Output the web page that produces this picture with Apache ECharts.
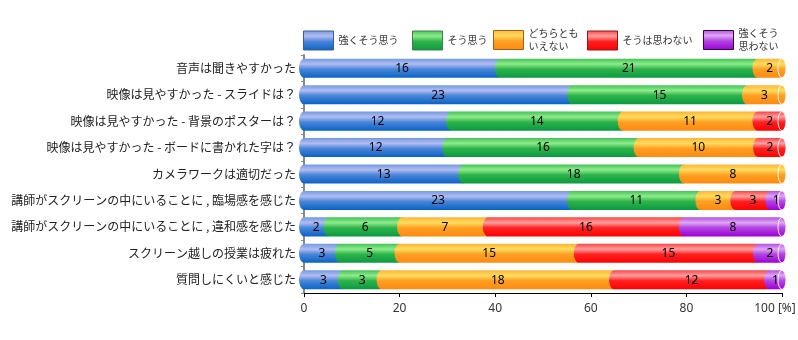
<!DOCTYPE html>
<html>
<head>
<meta charset="utf-8">
<script src="https://cdn.jsdelivr.net/npm/echarts@6/dist/echarts.min.js"></script>
<style>
  html, body { margin: 0; padding: 0; background: #fff; }
  #chart { width: 798px; height: 340px; }
</style>
</head>
<body>
<div id="chart"></div>
<script>
// Survey statements (top to bottom)
const questions = [
  '音声は聞きやすかった',
  '映像は見やすかった - スライドは？',
  '映像は見やすかった - 背景のポスターは？',
  '映像は見やすかった - ボードに書かれた字は？',
  'カメラワークは適切だった',
  '講師がスクリーンの中にいることに , 臨場感を感じた',
  '講師がスクリーンの中にいることに , 違和感を感じた',
  'スクリーン越しの授業は疲れた',
  '質問しにくいと感じた'
];

// Answer options
const answerNames = ['強くそう思う', 'そう思う', 'どちらとも\nいえない', 'そうは思わない', '強くそう\n思わない'];

// Response counts per statement
const stronglyAgree    = [16, 23, 12, 12, 13, 23, 2, 3, 3];
const agree            = [21, 15, 14, 16, 18, 11, 6, 5, 3];
const neutral          = [2, 3, 11, 10, 8, 3, 7, 15, 18];
const disagree         = [0, 0, 2, 2, 0, 3, 16, 15, 12];
const stronglyDisagree = [0, 0, 0, 0, 0, 1, 8, 2, 1];

const xTicks = [0, 20, 40, 60, 80, 100];

const counts = [stronglyAgree, agree, neutral, disagree, stronglyDisagree];

// Cylinder-like vertical shading for each answer
const shades = [
  ['#6f9be0', '#b3bcf3', '#4a86d8', '#0a62c6'],
  ['#45c257', '#8eec8b', '#2fb34b', '#099a42'],
  ['#ffb536', '#ffdc5e', '#ffa024', '#ff8a10'],
  ['#ff4343', '#ffa0a0', '#ff2222', '#ff0000'],
  ['#b550e2', '#dfa6f2', '#b244e2', '#9d00d6']
];
const borders = ['#3f5f8f', '#3f7f4f', '#a0601a', '#8f1a1a', '#2a0a3a'];

function gradient(k) {
  const c = shades[k];
  return {
    type: 'linear', x: 0, y: 0, x2: 0, y2: 1,
    colorStops: [
      { offset: 0, color: c[0] },
      { offset: 0.28, color: c[1] },
      { offset: 0.55, color: c[2] },
      { offset: 1, color: c[3] }
    ]
  };
}

function makeRenderer(k) {
  return function (params, api) {
    const row = api.value(0);
    const startPct = api.value(1);
    const endPct = api.value(2);
    const n = api.value(3);
    const p0 = api.coord([startPct, row]);
    const p1 = api.coord([endPct, row]);
    const h = api.size([0, 1])[1] * 0.72;
    const rx = 5, ry = h / 2;
    const top = p0[1] - ry, bottom = p0[1] + ry;
    const x0 = p0[0], x1 = p1[0];
    const children = [{
      type: 'path',
      shape: {
        pathData: 'M' + x0 + ' ' + top + 'L' + x1 + ' ' + top + 'L' + x1 + ' ' + bottom +
                  'L' + x0 + ' ' + bottom + 'A' + rx + ' ' + ry + ' 0 0 1 ' + x0 + ' ' + top + 'Z'
      },
      style: { fill: gradient(k) }
    }];
    if (endPct >= 99.999) {
      const erx = 4;
      children.push({
        type: 'path',
        shape: {
          pathData: 'M' + x1 + ' ' + top + 'A' + erx + ' ' + ry + ' 0 1 1 ' + x1 + ' ' + bottom +
                    'A' + erx + ' ' + ry + ' 0 1 1 ' + x1 + ' ' + top + 'Z'
        },
        style: { fill: gradient(k), stroke: 'rgba(255,255,255,0.9)', lineWidth: 1 }
      });
    }
    children.push({
      type: 'text',
      style: {
        text: String(n),
        x: (x0 + x1) / 2,
        y: p0[1] + 0.5,
        align: 'center',
        verticalAlign: 'middle',
        fill: '#000',
        fontSize: 12,
        fontFamily: '"Noto Sans", sans-serif'
      }
    });
    return { type: 'group', children: children };
  };
}

const series = answerNames.map(function (name, k) {
  const data = [];
  questions.forEach(function (q, i) {
    let total = 0;
    counts.forEach(function (arr) { total += arr[i]; });
    let before = 0;
    for (let j = 0; j < k; j++) before += counts[j][i];
    const n = counts[k][i];
    if (n > 0) data.push([i, before / total * 100, (before + n) / total * 100, n]);
  });
  return {
    type: 'custom',
    name: name,
    renderItem: makeRenderer(k),
    data: data,
    encode: { x: [1, 2], y: 0 },
    itemStyle: { color: gradient(k), borderColor: borders[k], borderWidth: 1 },
    clip: false
  };
});

const legendLeft = [303, 412, 493, 587, 703];
const legends = answerNames.map(function (name, k) {
  const twoLines = name.indexOf('\n') >= 0;
  return {
    data: [{ name: name, itemStyle: { borderColor: borders[k], borderWidth: 1 } }],
    left: legendLeft[k],
    top: twoLines ? 27 : 30.5,
    padding: 0,
    itemWidth: 30,
    itemHeight: 19,
    icon: 'rect',
    selectedMode: false,
    textStyle: {
      fontSize: 10,
      lineHeight: 13,
      color: '#333',
      fontFamily: '"Noto Sans CJK JP", sans-serif'
    }
  };
});

const chart = echarts.init(document.getElementById('chart'), null, { renderer: 'canvas' });
chart.setOption({
  animation: false,
  backgroundColor: '#fff',
  legend: legends,
  grid: { left: 304, right: 16, top: 55, bottom: 47, containLabel: false, outerBoundsMode: 'none' },
  xAxis: {
    type: 'value',
    min: xTicks[0],
    max: xTicks[xTicks.length - 1],
    interval: xTicks[1] - xTicks[0],
    axisLine: { show: true, lineStyle: { color: '#000', width: 1 } },
    axisTick: { show: true, length: 4, lineStyle: { color: '#000' } },
    splitLine: { show: false },
    axisLabel: {
      margin: 10,
      fontSize: 12,
      color: '#333',
      fontFamily: '"Noto Sans", sans-serif',
      formatter: function (v) { return v === 100 ? '{last|100 [%]}' : String(v); },
      rich: {
        last: { fontSize: 12, color: '#333', fontFamily: '"Noto Sans", sans-serif', padding: [0, 14, 0, 0] }
      }
    }
  },
  yAxis: {
    type: 'category',
    inverse: true,
    data: questions,
    axisLine: { show: true, lineStyle: { color: '#888', width: 2 } },
    axisTick: { show: true, length: 3, lineStyle: { color: '#888' } },
    axisLabel: {
      margin: 8,
      fontSize: 12,
      color: '#222',
      fontFamily: '"Noto Sans CJK JP", sans-serif'
    }
  },
  series: series
});
</script>
</body>
</html>
